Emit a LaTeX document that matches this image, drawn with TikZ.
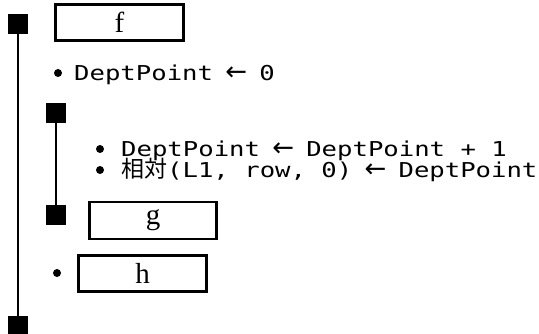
\documentclass[tikz,border=0pt]{standalone}
\usepackage{fontspec}
\newfontfamily\monof[FakeStretch=1.25]{DejaVu Sans Mono}
\newfontfamily\arrf{DejaVu Sans}
\newfontfamily\cjk{Noto Sans CJK JP}
\newfontfamily\boxf{Liberation Serif}
\newcommand\myarr{\makebox[15.4pt][c]{\smash{\arrf\fontsize{26}{22}\selectfont ←}}}
\begin{document}
\begin{tikzpicture}[x=1pt,y=-1pt,
  sq/.style={fill=black,draw=none,minimum size=20pt,inner sep=0pt,outer sep=0pt},
  bul/.style={circle,fill=black,draw=none,minimum size=8pt,inner sep=0pt},
  lbox/.style={draw=black,line width=2.6pt,inner sep=0pt,outer sep=0pt,font=\boxf\fontsize{29}{29}\selectfont},
  code/.style={anchor=base west,inner sep=0pt,font=\monof\fontsize{20.5}{22}\selectfont},
  vline/.style={line width=1.6pt}]
\useasboundingbox (0,0) rectangle (539,334);
% outer block
\node[sq] (o1) at (18,24) {};
\node[sq] (o2) at (18,326) {};
\draw[vline] (o1.south) -- (o2.north);
\node[lbox,minimum width=128pt,minimum height=36pt] (f) at (119.5,22.5) {f};
\node[bul] (b1) at (58,73) {};
\node[code] (t1) at (74,80.5) {DeptPoint \myarr{} 0};
% inner block
\node[sq] (i1) at (56,113) {};
\node[sq] (i2) at (56,215) {};
\draw[vline] (i1.south) -- (i2.north);
\node[bul] (b2) at (100,149) {};
\node[code] (t2) at (121,156.5) {DeptPoint \myarr{} DeptPoint + 1};
\node[bul] (b3) at (100,170) {};
\node[code] (t3) at (121,177.5) {\smash{\cjk\fontsize{23}{22}\selectfont 相対}(L1, row, 0) \myarr{} DeptPoint};
\node[lbox,minimum width=127pt,minimum height=37pt] (g) at (153,220.5) {g};
% last
\node[bul] (b4) at (57,273) {};
\node[lbox,minimum width=128pt,minimum height=36pt] (h) at (142.5,273.5) {h};
\end{tikzpicture}
\end{document}
